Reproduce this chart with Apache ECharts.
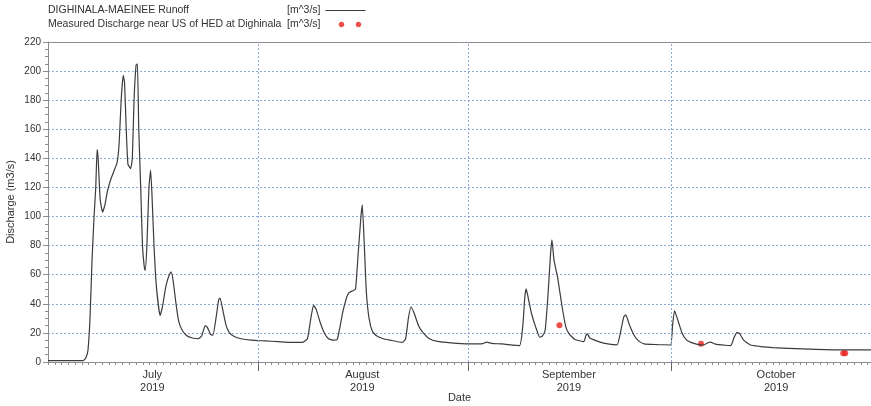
<!DOCTYPE html>
<html>
<head>
<meta charset="utf-8">
<script src="https://cdn.jsdelivr.net/npm/echarts@6/dist/echarts.min.js"></script>
<style>html,body{margin:0;padding:0;background:#fff}#c{width:871px;height:406px}</style>
</head>
<body>
<div id="c"></div>
<script>
// Days since 1 July 2019 (fractional) and runoff values [m^3/s]
const runoffDays = [0,5.2,5.6,5.9,6.2,6.5,6.8,7.05,7.25,7.4,7.7,8.05,8.4,8.8,9.3,9.8,10.2,10.5,10.8,11.1,11.3,11.55,11.8,12.2,12.45,12.7,13.0,13.2,13.4,13.7,13.95,14.2,14.35,14.6,14.9,15.15,15.35,15.65,16.0,16.55,16.9,17.4,17.9,18.2,18.5,18.9,19.3,19.8,20.5,21.3,22.2,22.7,23.2,23.5,24.0,24.35,24.8,25.2,25.4,25.8,26.3,26.8,27.5,28.5,30,32,34,36,37.6,38.3,38.8,39.2,39.6,40.2,40.8,41.4,42.2,42.7,43.1,43.5,44.0,44.4,45.0,45.4,45.8,46.2,46.4,46.7,47.0,47.4,47.9,48.5,49.5,50.5,52.3,52.8,53.2,53.6,54.1,54.7,55.4,56.3,57.5,59.5,62,64,64.8,65.5,67,69.6,70.1,70.4,70.6,70.9,71.4,72.0,72.6,73.0,73.4,73.8,74.2,74.4,74.7,75.2,75.6,75.9,76.4,76.9,77.8,79.1,79.4,79.6,80.0,80.6,82,84,84.5,85.0,85.3,85.8,86.5,87.2,88,90,91.9,92.2,92.5,92.9,93.6,94.3,95,96,96.8,97.5,97.8,98.5,100,100.8,101.3,101.7,102.1,102.7,103.7,105,107,111.5,116.4,121.5];
const runoffValues = [1,1,3,8,30,70,100,120,146,140,112,103,108,118,126,132,137,150,180,197,192,160,136,133,140,180,204,205,160,118,80,66,63,80,120,132,115,80,52,32,38,52,60,62,55,40,28,22,18,16.5,16,18,25,24,19,18.5,30,43,44,36,25,20,17.5,16,15,14.5,14,13.5,13.5,16,30,39,36,27,20,16,15,15.5,24,34,43,47.5,49,50,75,100,108,80,48,30,21,18,16,15,13.5,16,30,38,33,25,20,16,14.2,13.2,12.5,12.5,13.6,12.8,12.4,11.2,25,45,50.3,44,33,24,17,18,22,45,75,84,70,59,47,38,25,19.5,15.5,14,18,19.3,16.5,15.2,13,11.8,20,31,32.4,26,18.6,14.5,12.4,12,11.7,25,35.4,30,20,15,13.3,12,11.7,13.4,13.6,12.3,11.5,11.3,17,20.2,19.5,15,11.7,10.8,9.9,9,8.3,8.3];
// Measured discharge points
const measuredDays = [75.5, 96.4, 117.4, 117.7];
const measuredValues = [25.3, 12.6, 6, 6];
// Axis labels
const monthStarts = [31, 62, 92];
const monthCentres = [15.4, 46.4, 76.9, 107.5];
const monthLabels = ['July\n2019', 'August\n2019', 'September\n2019', 'October\n2019'];
const yTicks = {min: 0, max: 220, interval: 20};
const xMax = 121.5;
const unitLabel = '[m^3/s]';

const runoffName = 'DIGHINALA-MAEINEE Runoff';
const measuredName = 'Measured Discharge near US of HED at Dighinala';

function circ(cx, cy, r) {
  const k = 0.5523 * r;
  return `M${cx - r},${cy} C${cx - r},${cy - k} ${cx - k},${cy - r} ${cx},${cy - r} C${cx + k},${cy - r} ${cx + r},${cy - k} ${cx + r},${cy} C${cx + r},${cy + k} ${cx + k},${cy + r} ${cx},${cy + r} C${cx - k},${cy + r} ${cx - r},${cy + k} ${cx - r},${cy} Z`;
}
const dotsIcon = 'path://M0,0 L0.01,0 L0,0.01 Z ' + circ(16, 3, 2.8) + ' ' + circ(33, 3, 2.8) + ' M40,6 L39.99,6 L40,5.99 Z';
const lineIcon = 'path://M0,0 L0.01,0 L0,0.01 Z M0,2.4 L40,2.4 L40,3.6 L0,3.6 Z M40,6 L39.99,6 L40,5.99 Z';

const gridColor = '#8aa9d6';
const axisColor = '#8c8c8c';
const textColor = '#333';
const font = 'Liberation Sans, Arial, sans-serif';
const lineColor = '#3c3c3c';
const dotColor = '#e8231e';

const legendText = {fontSize: 10.5, color: textColor, fontFamily: font};

const chart = echarts.init(document.getElementById('c'), null, {renderer: 'canvas'});
chart.setOption({
  animation: false,
  textStyle: {fontFamily: font},
  grid: {left: 48, right: 0, top: 42, bottom: 44, outerBoundsMode: 'none'},
  legend: [
    {orient: 'vertical', left: 42, top: 5, padding: 0, itemWidth: 1, itemHeight: 6, itemGap: 3,
      icon: 'rect', itemStyle: {opacity: 0}, textStyle: legendText, selectedMode: false,
      data: [runoffName, measuredName]},
    {orient: 'vertical', left: 287, top: 5, padding: 0, align: 'right', itemWidth: 40, itemHeight: 6, itemGap: 3,
      textStyle: legendText, selectedMode: false, formatter: () => unitLabel,
      data: [{name: runoffName, icon: lineIcon, itemStyle: {color: lineColor}},
             {name: measuredName, icon: dotsIcon, itemStyle: {color: dotColor}}]}
  ],
  xAxis: [
    {type: 'value', min: 0, max: xMax, interval: 1, position: 'bottom',
      axisLine: {show: true, lineStyle: {color: axisColor}},
      axisTick: {show: true, length: 3, lineStyle: {color: axisColor}},
      axisLabel: {show: false}, splitLine: {show: false}},
    {type: 'value', min: 0, max: xMax, position: 'bottom',
      name: 'Date', nameLocation: 'middle', nameGap: 30, nameMoveOverlap: false,
      nameTextStyle: {fontSize: 11, color: textColor},
      axisLine: {show: false},
      axisTick: {show: true, length: 9, customValues: monthStarts, lineStyle: {color: '#666'}},
      axisLabel: {show: true, customValues: monthCentres, fontSize: 11, lineHeight: 13, color: textColor, margin: 6,
        formatter: v => { const i = monthCentres.indexOf(v); return i >= 0 ? monthLabels[i] : ''; }},
      splitLine: {show: false}},
    {type: 'value', min: 0, max: xMax, position: 'top',
      axisLine: {show: true, lineStyle: {color: axisColor}},
      axisTick: {show: false}, axisLabel: {show: false}, splitLine: {show: false}}
  ],
  yAxis: {
    type: 'value', min: yTicks.min, max: yTicks.max, interval: yTicks.interval,
    name: 'Discharge (m3/s)', nameLocation: 'middle', nameGap: 32, nameRotate: 90, nameMoveOverlap: false,
    nameTextStyle: {fontSize: 11, color: textColor},
    axisLine: {show: true, lineStyle: {color: axisColor}},
    axisTick: {show: true, length: 5, lineStyle: {color: axisColor}},
    minorTick: {show: true, splitNumber: 4, length: 3, lineStyle: {color: axisColor}},
    axisLabel: {fontSize: 10, color: textColor, margin: 7},
    splitLine: {show: true, lineStyle: {color: gridColor, type: [2, 2], width: 1}}
  },
  series: [
    {name: runoffName, type: 'line', xAxisIndex: 0, symbol: 'none', smooth: 0.15,
      lineStyle: {color: lineColor, width: 1.2}, itemStyle: {color: lineColor},
      data: runoffDays.map((d, i) => [d, runoffValues[i]]),
      markLine: {silent: true, symbol: 'none', label: {show: false},
        lineStyle: {color: gridColor, type: [2, 2], width: 1},
        data: monthStarts.map(m => ({xAxis: m}))}},
    {name: measuredName, type: 'scatter', xAxisIndex: 0, symbol: 'circle', symbolSize: 6,
      itemStyle: {color: dotColor},
      data: measuredDays.map((d, i) => [d, measuredValues[i]])}
  ]
});
</script>
</body>
</html>
